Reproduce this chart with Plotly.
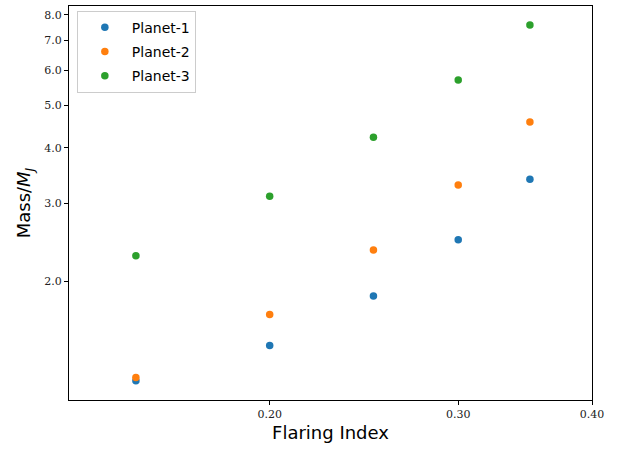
import math
import plotly.graph_objects as go

# Flaring index values and planet masses (in Jupiter masses)
flaring_index = [0.15, 0.20, 0.25, 0.30, 0.35]
planet_1 = [1.19, 1.43, 1.85, 2.48, 3.40]
planet_2 = [1.21, 1.68, 2.35, 3.30, 4.58]
planet_3 = [2.28, 3.11, 4.23, 5.70, 7.59]

series_names = ["Planet-1", "Planet-2", "Planet-3"]
series_values = [planet_1, planet_2, planet_3]
colors = ["#1f77b4", "#ff7f0e", "#2ca02c"]

x_ticks = [0.20, 0.30, 0.40]
x_tick_labels = ["0.20", "0.30", "0.40"]
y_ticks = [2, 3, 4, 5, 6, 7, 8]
y_tick_labels = ["2.0", "3.0", "4.0", "5.0", "6.0", "7.0", "8.0"]

fig = go.Figure()
for name, vals, col in zip(series_names, series_values, colors):
    fig.add_trace(go.Scatter(
        x=flaring_index, y=vals, mode="markers", name=name, legendgroup=name,
        marker=dict(color=col, size=7.5, line=dict(width=0)),
    ))

tick_font = dict(family="DejaVu Serif", size=11, color="#222")
title_font = dict(family="DejaVu Sans", size=18, color="black")

fig.update_layout(
    width=617, height=454,
    margin=dict(l=69, r=25, t=6, b=54),
    paper_bgcolor="white", plot_bgcolor="white",
    showlegend=True,
    legend=dict(
        x=0.015, y=0.988, xanchor="left", yanchor="top",
        bgcolor="rgba(255,255,255,0.8)", bordercolor="#cccccc", borderwidth=1,
        font=dict(family="DejaVu Sans", size=14, color="black"),
        itemwidth=44, tracegroupgap=3,
    ),
    xaxis=dict(
        type="log", range=[math.log10(0.1299), math.log10(0.4)],
        tickvals=x_ticks, ticktext=x_tick_labels, tickfont=tick_font,
        ticks="outside", ticklen=4, tickcolor="black",
        showgrid=False, zeroline=False,
        showline=True, linecolor="black", linewidth=1, mirror=True,
        title=dict(text="Flaring Index", font=title_font, standoff=6),
    ),
    yaxis=dict(
        type="log", range=[math.log10(1.076), math.log10(8.38)],
        tickvals=y_ticks, ticktext=y_tick_labels, tickfont=tick_font,
        ticks="outside", ticklen=4, tickcolor="black",
        showgrid=False, zeroline=False,
        showline=True, linecolor="black", linewidth=1, mirror=True,
        title=dict(text="Mass/<i>M<sub>J</sub></i>", font=title_font, standoff=8),
    ),
)

fig.write_html("out.html")
